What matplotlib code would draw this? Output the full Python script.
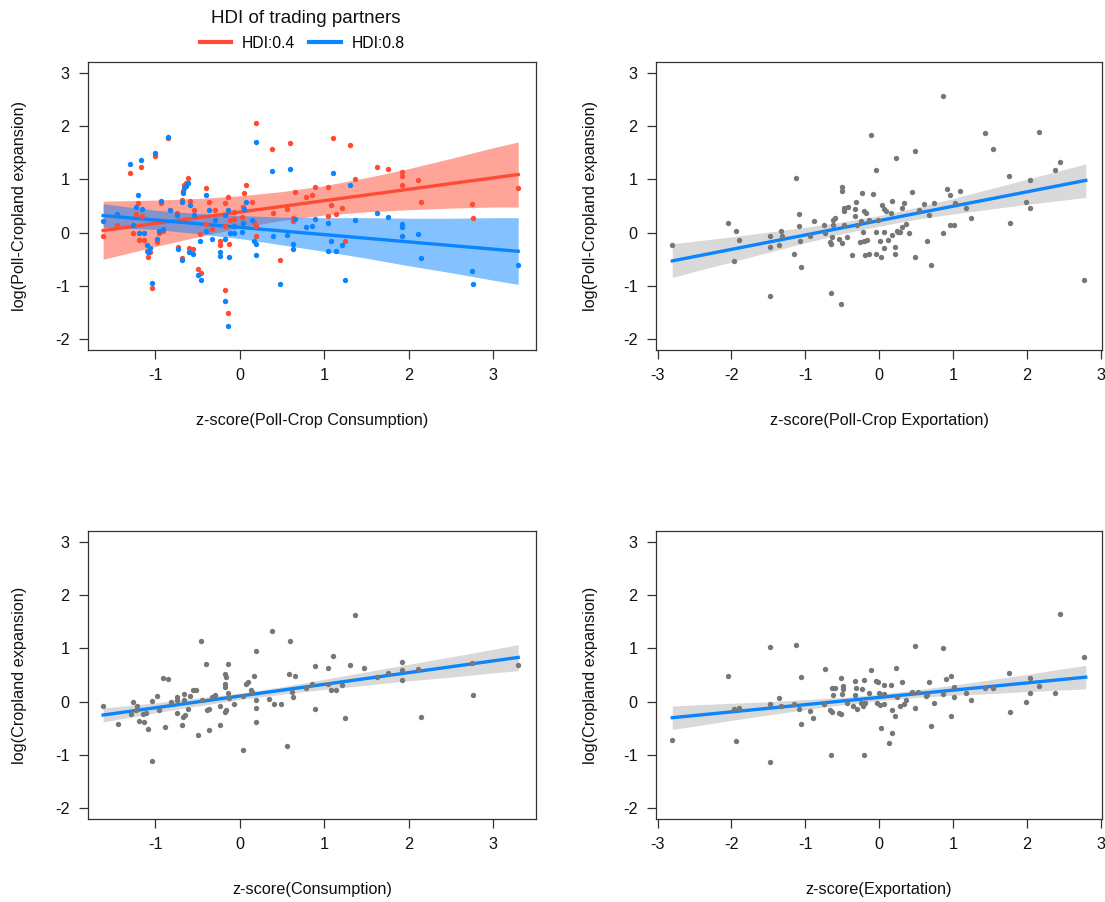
import matplotlib
matplotlib.use('Agg')
import matplotlib.pyplot as plt
from matplotlib.lines import Line2D

plt.rcParams['font.family'] = ['Liberation Sans', 'DejaVu Sans']
plt.rcParams['axes.unicode_minus'] = False

RED = '#FF4B33'
BLUE = '#0A84FF'
GREY_PT = '#777777'
GREY_BAND = '#D9D9D9'

# ---- panel 1: poll-crop consumption x HDI of partners ----
cons_pc_x = [-1.62, -1.45, -1.30, -1.27, -1.23, -1.21, -1.20, -1.17, -1.16, -1.14,
             -1.10, -1.09, -1.06, -1.04, -1.01, -0.98, -0.96, -0.94, -0.91, -0.85,
             -0.83, -0.75, -0.73, -0.68, -0.67, -0.66, -0.64, -0.61, -0.68, -0.60,
             -0.59, -0.56, -0.54, -0.49, -0.46, -0.47, -0.40, -0.40, -0.36, -0.33,
             -0.29, -0.24, -0.23, -0.18, -0.18, -0.17, -0.14, -0.14, -0.13, -0.12,
             -0.07, -0.07, 0.03, 0.04, 0.05, 0.07, 0.15, 0.17, 0.19, 0.19,
             0.19, 0.38, 0.39, 0.48, 0.56, 0.60, 0.63, 0.63, 0.66, 0.79,
             0.85, 0.89, 1.05, 1.05, 1.08, 1.11, 1.14, 1.21, 1.25, 1.31,
             1.36, 1.63, 1.76, 1.92, 1.92, 1.92, 2.11, 2.15, 2.75, 2.76, 3.30]
hdi04_y = [-0.07, 0.14, 1.12, -0.01, 0.35, 0.56, -0.14, 1.24, 0.32, -0.13,
           -0.34, -0.46, -0.37, -1.03, 1.43, -0.17, -0.01, 0.56, 0.03, 1.78,
           0.42, 0.36, -0.27, 0.61, 0.79, 0.89, 0.94, 1.02, -0.47, -0.29,
           0.60, -0.31, 0.43, -0.68, -0.76, -0.03, 0.84, 0.17, 0.58, 0.07,
           0.43, -0.23, -0.16, -1.07, 0.55, 0.12, 0.66, -1.51, -0.21, 0.24,
           0.25, 0.38, 0.30, 0.48, 0.75, 0.90, 0.57, 0.20, 2.05, 0.13,
           -0.06, 1.57, 0.37, -0.51, 0.44, 1.69, 0.28, 0.21, 0.77, 0.67,
           0.71, 0.85, 0.85, 0.32, 0.52, 1.78, 0.35, 0.47, -0.15, 1.64,
           1.00, 1.23, 1.19, 1.13, 1.06, 0.90, 0.99, 0.57, 0.53, 0.28, 0.83]
hdi08_y = [0.21, 0.35, 1.29, 0.14, 0.49, 0.70, -0.01, 1.36, 0.44, -0.01,
           -0.24, -0.37, -0.29, -0.95, 1.49, -0.11, 0.04, 0.60, 0.06, 1.79,
           0.42, 0.33, -0.30, 0.57, 0.74, 0.83, 0.88, 0.94, -0.52, -0.37,
           0.52, -0.40, 0.33, -0.80, -0.89, -0.16, 0.70, 0.03, 0.42, -0.11,
           0.24, -0.43, -0.37, -1.29, 0.33, -0.11, 0.42, -1.75, -0.45, -0.01,
           -0.01, 0.12, 0.01, 0.18, 0.44, 0.58, 0.23, -0.15, 1.70, -0.22,
           -0.41, 1.15, -0.06, -0.97, -0.04, 1.19, -0.22, -0.30, 0.26, 0.11,
           0.12, 0.26, 0.19, -0.34, -0.15, 1.11, -0.34, -0.24, -0.88, 0.89,
           0.24, 0.37, 0.29, 0.17, 0.10, -0.06, -0.03, -0.47, -0.72, -0.97, -0.61]
fit1_x = [-1.62, 3.30]
fit1_hdi04 = [0.04, 1.09]
fit1_hdi08 = [0.32, -0.35]
band1_x = [-1.62, -1.0, -0.5, 0.0, 0.5, 1.0, 1.5, 2.0, 2.5, 3.0, 3.30]
band1_hdi04_lo = [-0.50, -0.26, -0.08, 0.09, 0.23, 0.33, 0.39, 0.43, 0.46, 0.48, 0.48]
band1_hdi04_hi = [0.59, 0.61, 0.64, 0.69, 0.77, 0.88, 1.03, 1.20, 1.39, 1.59, 1.70]
band1_hdi08_lo = [0.10, 0.06, -0.02, -0.11, -0.23, -0.35, -0.48, -0.62, -0.75, -0.89, -0.97]
band1_hdi08_hi = [0.54, 0.42, 0.36, 0.32, 0.29, 0.28, 0.28, 0.27, 0.27, 0.28, 0.28]

# ---- panel 2: poll-crop exportation ----
exp_pc_x = [-2.80, -2.05, -1.94, -1.89, -1.97, -1.47, -1.47, -1.47, -1.36, -1.33,
            -1.31, -1.15, -1.13, -1.08, -1.08, -1.07, -1.05, -0.93, -0.88, -0.75,
            -0.67, -0.65, -0.65, -0.64, -0.62, -0.62, -0.60, -0.52, -0.50, -0.50,
            -0.50, -0.54, -0.47, -0.47, -0.47, -0.44, -0.42, -0.36, -0.32, -0.32,
            -0.31, -0.30, -0.26, -0.24, -0.23, -0.22, -0.21, -0.20, -0.19, -0.17,
            -0.16, -0.14, -0.14, -0.11, -0.08, -0.04, -0.04, -0.04, -0.02, 0.01,
            0.03, 0.04, 0.07, 0.07, 0.07, 0.09, 0.12, 0.16, 0.18, 0.18,
            0.21, 0.21, 0.23, 0.24, 0.26, 0.29, 0.31, 0.31, 0.34, 0.36,
            0.41, 0.44, 0.49, 0.49, 0.54, 0.61, 0.65, 0.68, 0.70, 0.75,
            0.87, 0.87, 0.92, 0.96, 0.96, 1.01, 1.03, 1.10, 1.18, 1.25,
            1.43, 1.55, 1.76, 1.77, 1.99, 2.04, 2.04, 2.16, 2.39, 2.45, 2.78, -0.73]
exp_pc_y = [-0.24, 0.19, 0.03, -0.13, -0.54, -0.06, -0.27, -1.18, -0.24, 0.03,
            -0.06, -0.40, 1.02, 0.35, 0.12, -0.16, -0.64, -0.06, 0.21, 0.14,
            -0.17, -0.22, -1.13, -0.08, 0.14, 0.24, 0.28, -1.34, 0.86, 0.79,
            -0.20, -0.11, 0.40, 0.47, 0.14, -0.08, 0.49, -0.42, 0.44, 0.31,
            0.58, 0.14, -0.17, 0.21, 0.74, 0.01, 0.40, -0.16, -0.42, 0.37,
            -0.13, -0.40, 0.24, 1.84, 0.72, 1.17, 0.01, -0.40, 0.24, -0.16,
            -0.45, 0.51, 0.01, 0.44, -0.29, 0.40, -0.13, 0.37, 0.60, -0.04,
            -0.27, -0.40, 1.40, 0.03, 0.01, 0.01, 0.47, 0.10, 0.56, 0.17,
            -0.01, 0.76, -0.45, 1.54, 0.42, 0.54, -0.16, 0.33, -0.61, 0.56,
            -0.01, 2.57, 0.81, 0.70, 0.14, 0.14, 0.56, 0.79, 0.47, 0.28,
            1.86, 1.56, 1.06, 0.19, 0.58, 0.99, 0.47, 1.88, 1.17, 1.33, -0.88, -0.01]
fit2_x = [-2.80, 2.80]
fit2_y = [-0.53, 0.98]
band2_x = [-2.80, -2.5, -2.0, -1.5, -1.0, -0.5, 0.0, 0.5, 1.0, 1.5, 2.0, 2.5, 2.80]
band2_lo = [-0.84, -0.73, -0.55, -0.37, -0.19, -0.02, 0.12, 0.25, 0.35, 0.44, 0.53, 0.61, 0.66]
band2_hi = [-0.21, -0.16, -0.08, 0.01, 0.10, 0.20, 0.32, 0.47, 0.64, 0.82, 1.00, 1.18, 1.29]

# ---- panel 3: consumption ----
cons_x = [-1.62, -1.44, -1.29, -1.27, -1.23, -1.22, -1.20, -1.15, -1.14, -1.11,
          -1.09, -1.04, -1.04, -0.98, -0.96, -0.91, -0.89, -0.85, -0.82, -0.75,
          -0.75, -0.74, -0.68, -0.67, -0.65, -0.66, -0.66, -0.62, -0.59, -0.55,
          -0.52, -0.49, -0.46, -0.45, -0.40, -0.39, -0.37, -0.36, -0.33, -0.29,
          -0.24, -0.23, -0.18, -0.16, -0.17, -0.17, -0.18, -0.16, -0.14, -0.14,
          -0.13, -0.07, 0.04, 0.04, 0.07, 0.10, 0.13, 0.15, 0.17, 0.19,
          0.19, 0.19, 0.19, 0.35, 0.38, 0.40, 0.49, 0.56, 0.58, 0.66,
          0.60, 0.62, 0.63, 0.79, 0.85, 0.89, 0.89, 1.05, 1.05, 1.08,
          1.11, 1.14, 1.21, 1.25, 1.31, 1.36, 1.47, 1.63, 1.76, 1.92,
          1.92, 1.92, 2.11, 2.15, 2.75, 2.76, 3.30]
cons_y = [-0.08, -0.41, -0.24, -0.01, -0.16, -0.09, -0.36, -0.23, -0.38, -0.21,
          -0.52, -1.11, 0.01, 0.11, -0.16, 0.45, -0.47, 0.42, -0.01, 0.08,
          -0.22, 0.03, -0.43, -0.29, -0.25, 0.14, 0.03, -0.13, 0.11, 0.21,
          0.21, -0.63, 1.13, 0.04, 0.70, -0.16, -0.13, -0.54, 0.08, 0.13,
          -0.08, -0.43, 0.52, 0.46, 0.34, 0.27, -0.19, -0.16, 0.70, 0.17,
          0.07, -0.05, -0.91, 0.11, 0.34, 0.36, 0.21, 0.18, 0.48, 0.95,
          0.04, -0.11, -0.38, 0.05, 1.32, -0.04, -0.04, -0.83, 0.52, 0.49,
          1.13, 0.18, 0.09, 0.26, 0.34, 0.66, -0.13, 0.63, 0.34, 0.21,
          0.86, 0.21, 0.31, -0.31, 0.69, 1.62, 0.63, 0.47, 0.53, 0.74,
          0.59, 0.40, 0.61, -0.29, 0.72, 0.13, 0.68]
fit3_x = [-1.62, 3.30]
fit3_y = [-0.25, 0.83]
band3_x = [-1.62, -1.0, -0.5, 0.0, 0.5, 1.0, 1.5, 2.0, 2.5, 3.0, 3.30]
band3_lo = [-0.38, -0.21, -0.08, 0.04, 0.14, 0.23, 0.31, 0.39, 0.46, 0.54, 0.58]
band3_hi = [-0.12, -0.02, 0.07, 0.16, 0.28, 0.42, 0.56, 0.70, 0.84, 0.98, 1.07]

# ---- panel 4: exportation ----
exp_x = [-2.80, -2.05, -1.97, -1.94, -1.89, -1.47, -1.47, -1.47, -1.36, -1.33,
         -1.15, -1.13, -1.08, -1.05, -1.05, -0.93, -0.89, -0.75, -0.73, -0.66,
         -0.64, -0.65, -0.64, -0.60, -0.62, -0.54, -0.52, -0.52, -0.49, -0.49,
         -0.50, -0.44, -0.32, -0.35, -0.30, -0.32, -0.31, -0.24, -0.22, -0.23,
         -0.21, -0.21, -0.19, -0.14, -0.11, -0.04, -0.01, 0.00, -0.03, 0.01,
         0.03, 0.07, 0.07, 0.07, 0.13, 0.16, 0.18, 0.18, 0.21, 0.23,
         0.24, 0.28, 0.31, 0.34, 0.37, 0.45, 0.49, 0.49, 0.53, 0.64,
         0.65, 0.68, 0.70, 0.75, 0.87, 0.87, 0.91, 0.97, 0.97, 1.01,
         1.01, 1.18, 1.25, 1.43, 1.55, 1.76, 1.77, 1.99, 2.04, 2.04,
         2.16, 2.39, 2.45, 2.78]
exp_y = [-0.72, 0.49, -0.14, -0.74, -0.11, 1.02, -0.04, -1.14, 0.06, -0.09,
         -0.04, 1.06, -0.13, 0.47, -0.42, -0.18, -0.31, -0.04, 0.61, -0.16,
         -0.20, -1.00, 0.25, 0.26, 0.13, -0.22, -0.23, 0.44, 0.29, 0.23,
         0.14, -0.02, 0.13, -0.09, -0.13, 0.38, 0.26, -0.02, -0.08, 0.24,
         0.40, -1.00, -0.03, 0.16, 0.59, 0.38, 0.36, 0.17, -0.03, -0.06,
         -0.49, 0.31, 0.14, -0.04, -0.77, 0.31, -0.16, -0.58, -0.27, 0.63,
         0.08, -0.09, 0.36, -0.04, 0.04, 0.18, 1.04, -0.11, 0.18, 0.10,
         0.12, 0.36, -0.45, -0.02, 1.00, 0.14, 0.42, 0.49, -0.27, 0.27,
         0.08, 0.17, 0.03, 0.25, 0.25, 0.54, -0.19, -0.01, 0.44, 0.17,
         0.29, 0.17, 1.64, 0.84]
fit4_x = [-2.80, 2.80]
fit4_y = [-0.30, 0.46]
band4_x = [-2.80, -2.5, -2.0, -1.5, -1.0, -0.5, 0.0, 0.5, 1.0, 1.5, 2.0, 2.5, 2.80]
band4_lo = [-0.52, -0.46, -0.35, -0.25, -0.15, -0.06, 0.02, 0.08, 0.12, 0.15, 0.19, 0.22, 0.24]
band4_hi = [-0.08, -0.06, -0.03, 0.00, 0.04, 0.08, 0.14, 0.22, 0.31, 0.41, 0.51, 0.62, 0.68]

y_ticks = [-2, -1, 0, 1, 2, 3]


def r_axes(ax, xlim, xticks, xlabel, ylabel, ylab_x):
    ax.set_xlim(*xlim)
    ax.set_ylim(-2.2, 3.2)
    ax.set_xticks(xticks)
    ax.set_xticklabels([str(t) for t in xticks])
    ax.set_yticks(y_ticks)
    ax.set_yticklabels([str(t) for t in y_ticks])
    for s in ax.spines.values():
        s.set_color('#333333')
        s.set_linewidth(0.9)
    ax.tick_params(direction='out', length=6.7, width=0.9, color='#333333',
                   labelsize=11.7, pad=6.5, labelcolor='#111111')
    ax.set_xlabel(xlabel, fontsize=11.7, color='#111111')
    ax.set_ylabel(ylabel, fontsize=11.7, color='#111111')
    ax.xaxis.set_label_coords(0.5, -0.22)
    ax.yaxis.set_label_coords(ylab_x, 0.5)


fig = plt.figure(figsize=(11.05, 9.02), dpi=100)
ax1 = fig.add_axes([0.0796, 0.612, 0.4054, 0.3193])
ax2 = fig.add_axes([0.5937, 0.612, 0.4036, 0.3193])
ax3 = fig.add_axes([0.0796, 0.092, 0.4054, 0.3193])
ax4 = fig.add_axes([0.5937, 0.092, 0.4036, 0.3193])

# panel 1
ax1.fill_between(band1_x, band1_hdi04_lo, band1_hdi04_hi, color=RED, alpha=0.5, lw=0, zorder=1)
ax1.fill_between(band1_x, band1_hdi08_lo, band1_hdi08_hi, color=BLUE, alpha=0.5, lw=0, zorder=1)
ax1.plot(fit1_x, fit1_hdi04, color=RED, lw=2.4, zorder=2)
ax1.plot(fit1_x, fit1_hdi08, color=BLUE, lw=2.4, zorder=2)
ax1.scatter(cons_pc_x, hdi04_y, s=15, color=RED, lw=0, zorder=3)
ax1.scatter(cons_pc_x, hdi08_y, s=15, color=BLUE, lw=0, zorder=4)
r_axes(ax1, (-1.80, 3.51), [-1, 0, 1, 2, 3], 'z-score(Poll-Crop Consumption)',
       'log(Poll-Cropland expansion)', -0.136)

# panel 2
ax2.fill_between(band2_x, band2_lo, band2_hi, color=GREY_BAND, lw=0, zorder=1)
ax2.plot(fit2_x, fit2_y, color=BLUE, lw=2.4, zorder=2)
ax2.scatter(exp_pc_x, exp_pc_y, s=15, color=GREY_PT, lw=0, zorder=3)
r_axes(ax2, (-3.02, 3.02), [-3, -2, -1, 0, 1, 2, 3], 'z-score(Poll-Crop Exportation)',
       'log(Poll-Cropland expansion)', -0.130)

# panel 3
ax3.fill_between(band3_x, band3_lo, band3_hi, color=GREY_BAND, lw=0, zorder=1)
ax3.plot(fit3_x, fit3_y, color=BLUE, lw=2.4, zorder=2)
ax3.scatter(cons_x, cons_y, s=15, color=GREY_PT, lw=0, zorder=3)
r_axes(ax3, (-1.80, 3.51), [-1, 0, 1, 2, 3], 'z-score(Consumption)',
       'log(Cropland expansion)', -0.136)

# panel 4
ax4.fill_between(band4_x, band4_lo, band4_hi, color=GREY_BAND, lw=0, zorder=1)
ax4.plot(fit4_x, fit4_y, color=BLUE, lw=2.4, zorder=2)
ax4.scatter(exp_x, exp_y, s=15, color=GREY_PT, lw=0, zorder=3)
r_axes(ax4, (-3.02, 3.02), [-3, -2, -1, 0, 1, 2, 3], 'z-score(Exportation)',
       'log(Cropland expansion)', -0.130)

# legend on top of panel 1
fig.text(0.277, 0.980, 'HDI of trading partners', fontsize=13.5, color='#111111',
         ha='center', va='center')
handles = [Line2D([], [], color=RED, lw=3), Line2D([], [], color=BLUE, lw=3)]
fig.legend(handles, ['HDI:0.4', 'HDI:0.8'], ncol=2, frameon=False,
           loc='center', bbox_to_anchor=(0.2735, 0.952),
           fontsize=11.3, handlelength=2.0, handletextpad=0.7,
           columnspacing=0.9, borderpad=0.1)

fig.savefig('out.png', dpi=100)
